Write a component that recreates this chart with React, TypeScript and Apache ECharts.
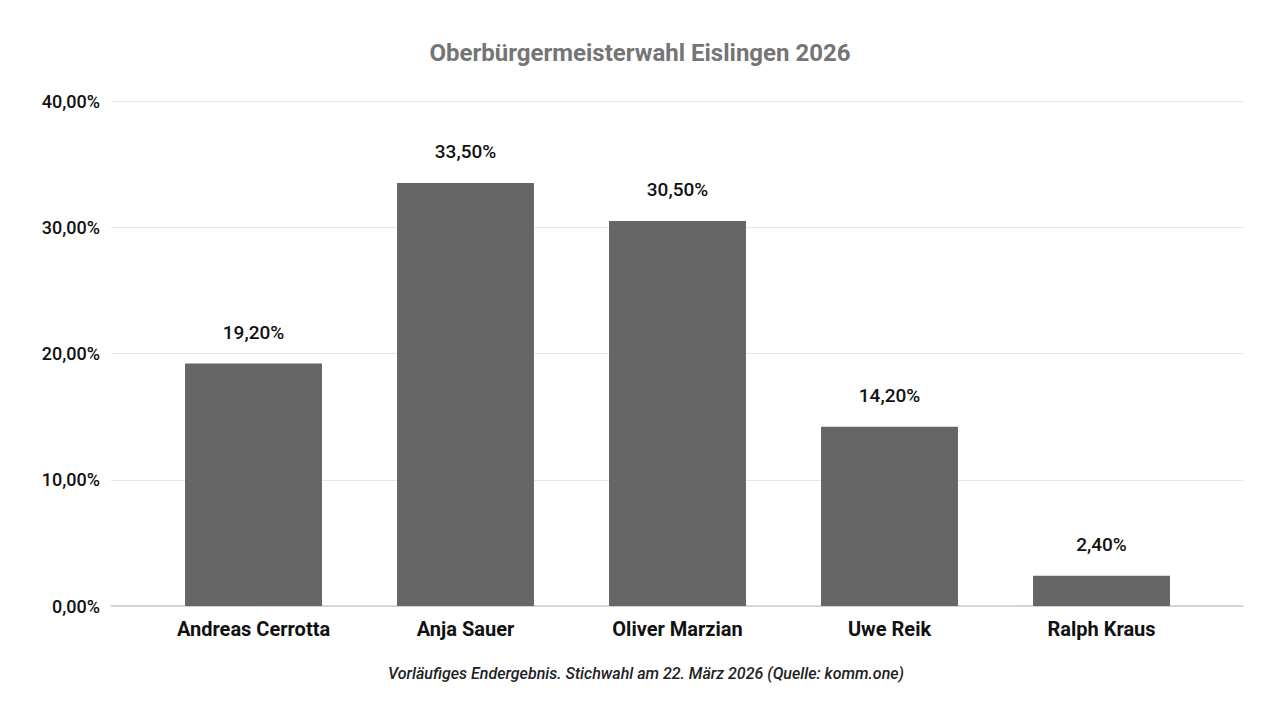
import React, { useEffect, useRef } from "react";
import * as echarts from "echarts";

const categories = ["Andreas Cerrotta", "Anja Sauer", "Oliver Marzian", "Uwe Reik", "Ralph Kraus"];
const values = [19.2, 33.5, 30.5, 14.2, 2.4];
const yTicks = [0, 10, 20, 30, 40];

const fmt = (v: number) => v.toFixed(2).replace(".", ",") + "%";

export default function App() {
  const ref = useRef<HTMLDivElement>(null);
  useEffect(() => {
    if (!ref.current) return;
    const chart = echarts.init(ref.current, undefined, { renderer: "svg" });
    const font = "Roboto, 'Noto Sans', sans-serif";
    chart.setOption({
      animation: false,
      backgroundColor: "#ffffff",
      title: {
        text: "Oberbürgermeisterwahl Eislingen 2026",
        left: "center",
        top: 36,
        textStyle: { fontFamily: font, fontSize: 24, fontWeight: "bold", color: "#757575" },
      },
      graphic: [
        {
          type: "text",
          left: 388,
          top: 665,
          style: {
            text: "Vorläufiges Endergebnis. Stichwahl am 22. März 2026 (Quelle: komm.one)",
            font: `italic 500 16px ${font}`,
            fill: "#222222",
          },
        },
      ],
      grid: [
        { left: 147.5, right: 72.5, top: 101, bottom: 114 },
        { left: 111, right: 37, top: 101, bottom: 114 },
      ],
      xAxis: [
        {
          type: "category",
          gridIndex: 0,
          data: categories,
          axisLine: { show: false },
          axisTick: { show: false },
          axisLabel: { margin: 13, fontFamily: font, fontSize: 20, fontWeight: "bold", color: "#111111" },
        },
        {
          type: "category",
          gridIndex: 1,
          data: [""],
          axisLine: { show: true, lineStyle: { color: "#cccccc", width: 1.5 } },
          axisTick: { show: false },
          axisLabel: { show: false },
        },
      ],
      yAxis: [
        {
          type: "value",
          gridIndex: 0,
          min: yTicks[0],
          max: yTicks[yTicks.length - 1],
          interval: 10,
          show: false,
          splitLine: { show: false },
        },
        {
          type: "value",
          gridIndex: 1,
          min: yTicks[0],
          max: yTicks[yTicks.length - 1],
          interval: 10,
          axisLine: { show: false },
          axisTick: { show: false },
          splitLine: { show: true, lineStyle: { color: "#e6e6e6", width: 1 } },
          axisLabel: {
            margin: 11,
            fontFamily: font,
            fontSize: 18,
            fontWeight: 500,
            color: "#111111",
            formatter: (v: number) => fmt(v),
          },
        },
      ],
      series: [
        {
          type: "bar",
          xAxisIndex: 0,
          yAxisIndex: 0,
          data: values,
          barWidth: "64.6%",
          itemStyle: { color: "#666666" },
          label: {
            show: true,
            position: "top",
            distance: 22,
            fontFamily: font,
            fontSize: 19,
            fontWeight: 500,
            color: "#111111",
            formatter: (p: any) => fmt(p.value),
          },
        },
      ],
    });
    return () => chart.dispose();
  }, []);
  return <div ref={ref} style={{ width: 1280, height: 720, margin: -8 }} />;
}
